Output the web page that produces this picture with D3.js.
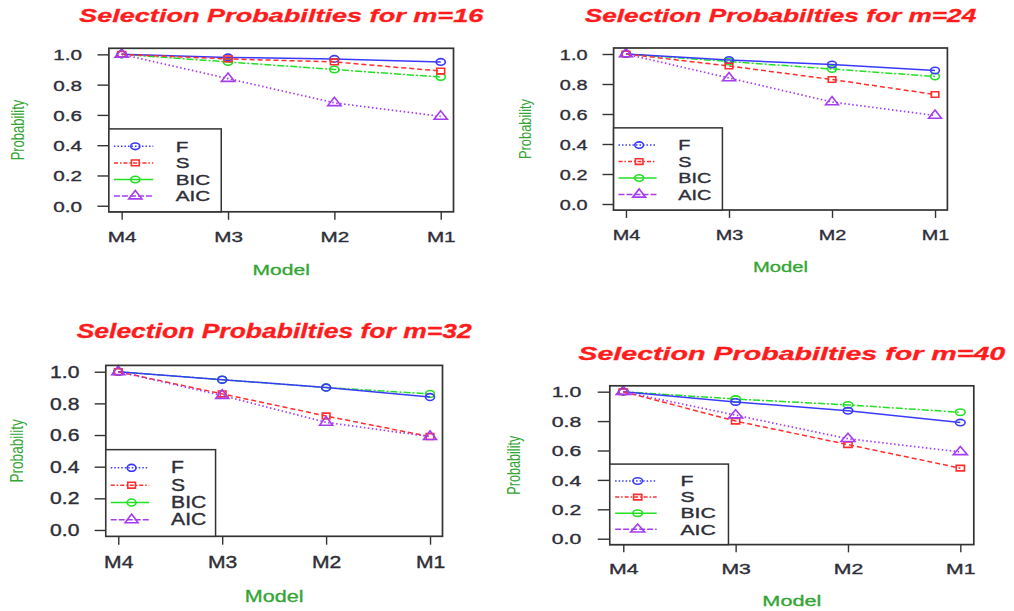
<!DOCTYPE html>
<html><head><meta charset="utf-8">
<script src="https://cdn.jsdelivr.net/npm/d3@7"></script>
<style>html,body{margin:0;padding:0;background:#fff}</style>
</head><body>
<svg id="c" width="1014" height="611"></svg>
<script>
// ---- data ----
const categories = ["M4", "M3", "M2", "M1"];
const seriesNames = ["F", "S", "BIC", "AIC"];
const yTicks = [0, 0.2, 0.4, 0.6, 0.8, 1.0];
const mValues = [16, 24, 32, 40];
const f16 = [1.00, 0.98, 0.97, 0.95];
const s16 = [1.00, 0.97, 0.95, 0.89];
const bic16 = [1.00, 0.95, 0.90, 0.85];
const aic16 = [1.00, 0.84, 0.68, 0.59];
const f24 = [1.00, 0.96, 0.93, 0.89];
const s24 = [1.00, 0.92, 0.83, 0.73];
const bic24 = [1.00, 0.95, 0.90, 0.85];
const aic24 = [1.00, 0.84, 0.68, 0.59];
const f32 = [1.00, 0.95, 0.90, 0.84];
const s32 = [1.00, 0.86, 0.72, 0.59];
const bic32 = [1.00, 0.95, 0.90, 0.86];
const aic32 = [1.00, 0.85, 0.68, 0.59];
const f40 = [1.00, 0.93, 0.87, 0.79];
const s40 = [1.00, 0.80, 0.64, 0.48];
const bic40 = [1.00, 0.95, 0.91, 0.86];
const aic40 = [1.00, 0.84, 0.68, 0.59];

// ---- layout / style ----
const panelBoxes = [
  {l: 108.9, r: 453.5, t: 48.3, b: 211.8},
  {l: 613.6, r: 947.4, t: 48.0, b: 210.0},
  {l: 105.8, r: 442.5, t: 365.4, b: 536.3},
  {l: 609.8, r: 973.8, t: 385.8, b: 544.6}
];
const panelSeries = [
  [f16, s16, bic16, aic16],
  [f24, s24, bic24, aic24],
  [f32, s32, bic32, aic32],
  [f40, s40, bic40, aic40]
];
const styles = {
  F:   {color: "#3a3aff", dash: null,       legDash: "1.5,2",     sym: d3.symbolCircle,   size: 34},
  S:   {color: "#ff2e2e", dash: "5,3",      legDash: "4,2,1.5,2", sym: d3.symbolSquare,   size: 32},
  BIC: {color: "#22e022", dash: "7,2,2,2",  legDash: null,        sym: d3.symbolCircle,   size: 34},
  AIC: {color: "#a63cf0", dash: "1.5,2.5",  legDash: "6,2",       sym: d3.symbolTriangle, size: 40}
};
const drawOrder = ["BIC", "F", "S", "AIC"];
const FONT = "'Liberation Sans', Arial, Helvetica, sans-serif";
const tickColor = "#2e2e38";
const labColor = "#34a534";

const svg = d3.select("#c");
svg.append("rect").attr("width", 1014).attr("height", 611).attr("fill", "#fff");

panelBoxes.forEach((bx, pi) => {
  const sx = (bx.r - bx.l) / 250, sy = (bx.b - bx.t) / 163.5;
  const g = svg.append("g");
  const x = d3.scalePoint().domain(categories).range([bx.l, bx.r]).padding(0.12);
  const y = d3.scaleLinear().domain([-0.04, 1.04]).range([bx.b, bx.t]);

  // title
  g.append("text")
    .attr("x", (bx.l + bx.r) / 2).attr("y", bx.t - 26.5 * sy)
    .attr("text-anchor", "middle")
    .attr("font-family", FONT).attr("font-weight", "bold").attr("font-style", "italic")
    .attr("font-size", 18.5 * sy).attr("fill", "#ff1c1c")
    .attr("stroke", "#ff1c1c").attr("stroke-width", 0.3)
    .attr("textLength", 1.173 * (bx.r - bx.l)).attr("lengthAdjust", "spacingAndGlyphs")
    .text("Selection Probabilties for m=" + mValues[pi]);

  // y axis
  const ya = g.append("g").attr("transform", `translate(${bx.l},0)`)
    .call(d3.axisLeft(y).tickValues(yTicks).tickFormat(d3.format(".1f")).tickSize(8.3 * sx).tickPadding(0));
  ya.select(".domain").remove();
  ya.selectAll(".tick line").attr("stroke", "#333").attr("stroke-width", 1.4);
  ya.selectAll(".tick text")
    .attr("transform", `scale(${sx},1)`).attr("x", -19.6).attr("dy", "0.36em")
    .attr("font-family", FONT).attr("font-size", 15 * sy).attr("fill", tickColor)
    .attr("stroke", tickColor).attr("stroke-width", 0.35);

  // x axis
  const xa = g.append("g").attr("transform", `translate(0,${bx.b})`)
    .call(d3.axisBottom(x).tickSize(8 * sy).tickPadding(0));
  xa.select(".domain").remove();
  xa.selectAll(".tick line").attr("stroke", "#333").attr("stroke-width", 1.4);
  xa.selectAll(".tick text")
    .attr("transform", `scale(${sx},1)`).attr("y", 30 * sy).attr("dy", 0)
    .attr("font-family", FONT).attr("font-size", 15 * sy).attr("fill", tickColor)
    .attr("stroke", tickColor).attr("stroke-width", 0.35);

  // axis labels
  g.append("text")
    .attr("transform", `translate(${(bx.l + bx.r) / 2},${bx.b + 63 * sy}) scale(${sx},1)`)
    .attr("text-anchor", "middle").attr("font-family", FONT)
    .attr("font-size", 15.3 * sy).attr("fill", labColor)
    .attr("stroke", labColor).attr("stroke-width", 0.3).text("Model");
  g.append("text")
    .attr("transform", `translate(${bx.l - 61.5 * sx},${(bx.t + bx.b) / 2}) scale(${sx},1) rotate(-90)`)
    .attr("text-anchor", "middle").attr("font-family", FONT)
    .attr("font-size", 13 * sy).attr("fill", labColor).text("Probability");

  // series
  const line = d3.line().x((d, i) => x(categories[i])).y(d => y(d));
  drawOrder.forEach(name => {
    const si = seriesNames.indexOf(name);
    const vals = panelSeries[pi][si];
    const st = styles[name];
    g.append("path").datum(vals).attr("d", line)
      .attr("fill", "none").attr("stroke", st.color).attr("stroke-width", name === "AIC" ? 1.7 : 1.5)
      .attr("stroke-dasharray", st.dash);
    g.selectAll(null).data(vals).enter().append("path")
      .attr("transform", (d, i) => `translate(${x(categories[i])},${y(d)}) scale(${sx},${sy})`)
      .attr("d", d3.symbol().type(st.sym).size(st.size)())
      .attr("fill", "none").attr("stroke", st.color).attr("stroke-width", 1.6)
      .attr("vector-effect", "non-scaling-stroke");
  });

  // box
  g.append("rect").attr("x", bx.l).attr("y", bx.t)
    .attr("width", bx.r - bx.l).attr("height", bx.b - bx.t)
    .attr("fill", "none").attr("stroke", "#333").attr("stroke-width", 1.7);

  // legend
  const lw = 0.326 * (bx.r - bx.l), lh = 0.507 * (bx.b - bx.t);
  const lg = g.append("g").attr("transform", `translate(${bx.l},${bx.b - lh})`);
  lg.append("rect").attr("width", lw).attr("height", lh)
    .attr("fill", "#fff").attr("stroke", "#333").attr("stroke-width", 1.5);
  seriesNames.forEach((name, i) => {
    const st = styles[name];
    const yy = lh * (0.21 + i * 0.2);
    lg.append("line").attr("x1", 0.045 * lw).attr("x2", 0.395 * lw).attr("y1", yy).attr("y2", yy)
      .attr("stroke", st.color).attr("stroke-width", 1.5).attr("stroke-dasharray", st.legDash);
    lg.append("path")
      .attr("transform", `translate(${0.235 * lw},${yy}) scale(${sx},${sy})`)
      .attr("d", d3.symbol().type(st.sym).size(st.size)())
      .attr("fill", "none").attr("stroke", st.color).attr("stroke-width", 1.6)
      .attr("vector-effect", "non-scaling-stroke");
    lg.append("text")
      .attr("transform", `translate(${0.595 * lw},${yy + 5.4 * sy}) scale(${sx},1)`)
      .attr("font-family", FONT).attr("font-size", 15 * sy).attr("fill", tickColor)
      .attr("stroke", tickColor).attr("stroke-width", 0.35)
      .text(name);
  });
});
</script>
</body></html>
